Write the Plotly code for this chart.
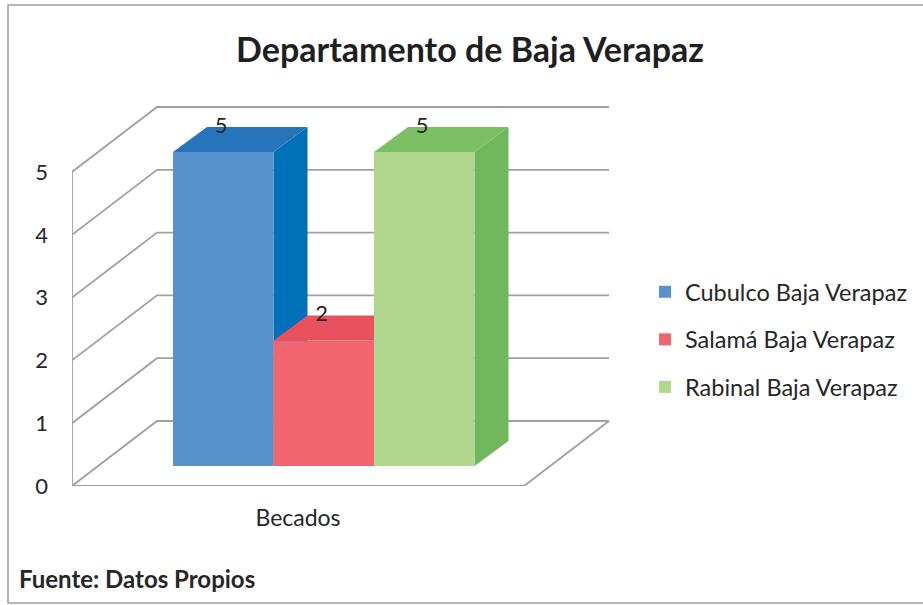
import plotly.graph_objects as go

# --- data ---
title = "Departamento de Baja Verapaz"
source_note = "Fuente: Datos Propios"
category_label = ["Becados"]
series_names = ["Cubulco Baja Verapaz", "Salamá Baja Verapaz", "Rabinal Baja Verapaz"]
series_values = [5, 2, 5]
axis_ticks = [0, 1, 2, 3, 4, 5]

# --- styles ---
front_colors = ["#5792CC", "#F0656F", "#B1D78F"]
top_colors = ["#2674BA", "#E8525E", "#7CC064"]
side_colors = ["#0070B9", "#D9434F", "#71B75E"]
grid_color = "#A0A0A0"
text_color = "#262626"
font = "Lato"

W, H = 923, 605
PX_X, PX_Y = 100.5, 62.8           # pixels per axis unit
LEFT, RIGHT, BOTTOM, TOP = 72, 612, 486, 100
X0 = 173                           # pixel of x = 0
x_range = [(LEFT - X0) / PX_X, (RIGHT - X0) / PX_X]
y_range = [0, (BOTTOM - TOP) / PX_Y]

# oblique projection of the depth axis, in axis units
floor_dx, floor_dy = 85 / PX_X, 65 / PX_Y      # full floor depth
bar_dx, bar_dy = 34 / PX_X, 25 / PX_Y          # bar depth
bar_base = 20 / PX_Y                           # bars stand this far in from the floor's front
front_right = (524 - X0) / PX_X

fig = go.Figure()

# walls, floor and gridlines (bottom layer)
xs, ys = [], []
xl = x_range[0]
for v in axis_ticks:
    xs += [xl, xl + floor_dx, front_right + floor_dx, None]
    ys += [v, v + floor_dy, v + floor_dy, None]
xs += [xl, xl, None, xl, front_right, front_right + floor_dx]
ys += [max(axis_ticks), 0, None, 0, 0, floor_dy]
fig.add_trace(go.Scatter(x=xs, y=ys, mode="lines", showlegend=False, hoverinfo="skip",
                         line=dict(color=grid_color, width=1.8), xaxis="x", yaxis="y"))

# top and side faces of each bar (middle layer)
for i, v in enumerate(series_values):
    t = bar_base + v
    fig.add_trace(go.Scatter(
        x=[i + 1, i + 1 + bar_dx, i + 1 + bar_dx, i + 1, i + 1],
        y=[bar_base, bar_base + bar_dy, t + bar_dy, t, bar_base],
        mode="lines", fill="toself", fillcolor=side_colors[i], line=dict(width=0),
        showlegend=False, hoverinfo="skip", xaxis="x2", yaxis="y2"))
    fig.add_trace(go.Scatter(
        x=[i, i + 1, i + 1 + bar_dx, i + bar_dx, i],
        y=[t, t, t + bar_dy, t + bar_dy, t],
        mode="lines", fill="toself", fillcolor=top_colors[i], line=dict(width=0),
        showlegend=False, hoverinfo="skip", xaxis="x2", yaxis="y2"))

# front faces (top layer)
for i, (name, v) in enumerate(zip(series_names, series_values)):
    fig.add_trace(go.Bar(x=[i + 0.5], y=[v], base=[bar_base], width=[1], name=name,
                         legendgroup=name, marker=dict(color=front_colors[i], line=dict(width=0)),
                         xaxis="x3", yaxis="y3"))

# data labels
fig.add_trace(go.Scatter(
    x=[i + 0.48 for i in range(len(series_values))],
    y=[bar_base + v + bar_dy for v in series_values],
    text=[str(v) for v in series_values], mode="text", textposition="middle center",
    textfont=dict(family=font, size=22, color=text_color),
    showlegend=False, hoverinfo="skip", xaxis="x3", yaxis="y3"))

x_dom = [LEFT / W, RIGHT / W]
y_dom = [1 - BOTTOM / H, 1 - TOP / H]
hidden = dict(visible=False, domain=x_dom, range=x_range, fixedrange=True)
hidden_y = dict(visible=False, domain=y_dom, range=y_range, fixedrange=True)

fig.update_layout(
    width=W, height=H, margin=dict(l=0, r=0, t=0, b=0, autoexpand=False),
    paper_bgcolor="white", plot_bgcolor="rgba(0,0,0,0)",
    font=dict(family=font, color=text_color),
    title=dict(text="<b>" + title + "</b>", x=470 / W, xanchor="center", y=1 - 50 / H, yanchor="middle",
               font=dict(family=font, size=34, color="#1F1F1F")),
    xaxis=dict(domain=x_dom, range=x_range, tickvals=[(xl + front_right) / 2], ticktext=category_label,
               showgrid=False, zeroline=False, showline=False, ticks="", ticklabelstandoff=16,
               tickfont=dict(family=font, size=23, color=text_color), fixedrange=True),
    yaxis=dict(domain=y_dom, range=y_range, tickvals=axis_ticks, showgrid=False, zeroline=False,
               showline=False, ticks="", ticklabelstandoff=23,
               tickfont=dict(family=font, size=22, color=text_color), fixedrange=True),
    xaxis2=dict(overlaying="x", anchor="y2", **hidden),
    yaxis2=dict(overlaying="y", anchor="x2", **hidden_y),
    xaxis3=dict(overlaying="x", anchor="y3", **hidden),
    yaxis3=dict(overlaying="y", anchor="x3", **hidden_y),
    barmode="overlay",
    legend=dict(x=645 / W, xanchor="left", y=1 - 270 / H, yanchor="top", traceorder="grouped",
                tracegroupgap=14, font=dict(family=font, size=23.5, color=text_color),
                bgcolor="rgba(0,0,0,0)"),
    shapes=[dict(type="rect", xref="paper", yref="paper", x0=8 / W, x1=935 / W, y0=1 - 5 / H, y1=1 - 603 / H,
                 line=dict(color=grid_color, width=1.6), fillcolor="rgba(0,0,0,0)", layer="below")],
    annotations=[dict(text="<b>" + source_note + "</b>", xref="paper", yref="paper", x=17 / W, y=1 - 578 / H,
                      xanchor="left", yanchor="middle", showarrow=False,
                      font=dict(family=font, size=24, color=text_color))],
)

fig.write_html("out.html", config={"displayModeBar": False},
               post_script="document.body.style.margin='0';document.body.style.overflow='hidden';")
